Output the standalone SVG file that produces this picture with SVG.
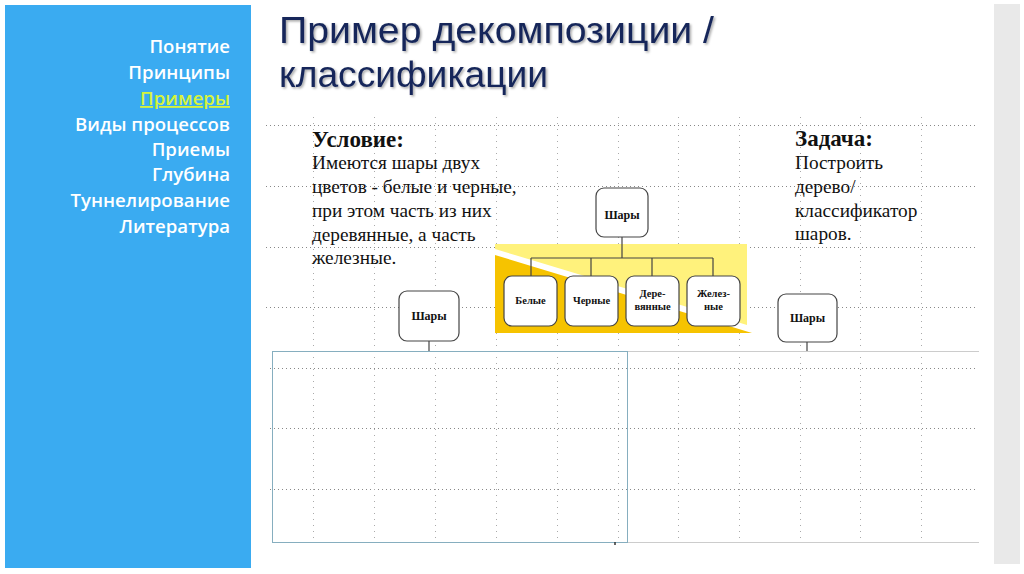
<svg xmlns="http://www.w3.org/2000/svg" width="1024" height="574" viewBox="0 0 1024 574">
<style>
.menu{font-family:"Open Sans","Noto Sans",sans-serif;font-weight:600;font-size:18.6px;fill:#ffffff;text-anchor:end}
.title{font-family:"Liberation Sans","Arial",sans-serif;font-size:37px;fill:#17285a}
.ser{font-family:"Liberation Serif","DejaVu Serif",serif;fill:#111}
.h{font-weight:bold;font-size:23px}
.b{font-size:19.3px}
.node rect{fill:#fff;stroke:#444;stroke-width:1.2}
.node text{font-family:"Liberation Serif","DejaVu Serif",serif;font-weight:bold;fill:#111;text-anchor:middle}
.gh{stroke:#888;stroke-width:1;stroke-dasharray:1 3}
.gv{stroke:#aaa;stroke-width:1;stroke-dasharray:1 5}
.conn{stroke:#444;stroke-width:1.2;fill:none}
</style>
<defs>
<filter id="sh" x="-5%" y="-20%" width="110%" height="140%">
<feDropShadow dx="1.5" dy="1.5" stdDeviation="1" flood-color="#000" flood-opacity="0.35"/>
</filter>
</defs>
<rect width="1024" height="574" fill="#ffffff"/>
<rect x="5" y="5" width="246" height="563" fill="#3aabf1"/>
<rect x="994" y="4" width="26" height="560" fill="#e9e9e9"/>
<g id="menu">
<text class="menu" x="230" y="53">Понятие</text>
<text class="menu" x="230" y="79">Принципы</text>
<text class="menu" x="230" y="105" style="fill:#d6f43a" text-decoration="underline">Примеры</text>
<text class="menu" x="230" y="131">Виды процессов</text>
<text class="menu" x="230" y="156">Приемы</text>
<text class="menu" x="230" y="181">Глубина</text>
<text class="menu" x="230" y="207">Туннелирование</text>
<text class="menu" x="230" y="233">Литература</text>
</g>
<g id="title" filter="url(#sh)">
<text class="title" x="279" y="43" textLength="435" lengthAdjust="spacingAndGlyphs">Пример декомпозиции /</text>
<text class="title" x="279" y="87" textLength="269" lengthAdjust="spacingAndGlyphs">классификации</text>
</g>
<g id="grid">
<line class="gh" x1="266" y1="125.5" x2="978" y2="125.5"/>
<line class="gh" x1="266" y1="186.5" x2="978" y2="186.5"/>
<line class="gh" x1="266" y1="247.5" x2="978" y2="247.5"/>
<line class="gh" x1="266" y1="307.5" x2="978" y2="307.5"/>
<line class="gh" x1="270" y1="368.5" x2="978" y2="368.5"/>
<line class="gh" x1="270" y1="428.5" x2="978" y2="428.5"/>
<line class="gh" x1="270" y1="489.5" x2="978" y2="489.5"/>
<line class="gv" x1="313.5" y1="117" x2="313.5" y2="541"/>
<line class="gv" x1="374.5" y1="117" x2="374.5" y2="541"/>
<line class="gv" x1="435.5" y1="117" x2="435.5" y2="541"/>
<line class="gv" x1="496.5" y1="117" x2="496.5" y2="541"/>
<line class="gv" x1="557.5" y1="117" x2="557.5" y2="541"/>
<line class="gv" x1="618.5" y1="117" x2="618.5" y2="541"/>
<line class="gv" x1="678.5" y1="117" x2="678.5" y2="541"/>
<line class="gv" x1="739.5" y1="117" x2="739.5" y2="541"/>
<line class="gv" x1="800.5" y1="117" x2="800.5" y2="541"/>
<line class="gv" x1="860.5" y1="117" x2="860.5" y2="541"/>
<line class="gv" x1="921.5" y1="117" x2="921.5" y2="541"/>
</g>
<g id="frame">
<line x1="628" y1="351.5" x2="979" y2="351.5" stroke="#cccccc" stroke-width="1"/>
<line x1="628" y1="542.5" x2="979" y2="542.5" stroke="#cccccc" stroke-width="1"/>
<rect x="272.5" y="351.5" width="355" height="191" fill="none" stroke="#86aebf" stroke-width="1"/>
<line x1="615" y1="542" x2="615" y2="545" stroke="#333" stroke-width="1.5"/>
</g>
<g id="condition">
<text class="ser h" x="312" y="147">Условие:</text>
<text class="ser b" x="312" y="169">Имеются шары двух</text>
<text class="ser b" x="312" y="193">цветов - белые и черные,</text>
<text class="ser b" x="312" y="217">при этом часть из них</text>
<text class="ser b" x="312" y="241">деревянные, а часть</text>
<text class="ser b" x="312" y="264">железные.</text>
</g>
<g id="task">
<text class="ser h" x="795" y="146">Задача:</text>
<text class="ser b" x="795" y="169">Построить</text>
<text class="ser b" x="795" y="193">дерево/</text>
<text class="ser b" x="795" y="217">классификатор</text>
<text class="ser b" x="795" y="240">шаров.</text>
</g>
<g id="highlight">
<rect x="495" y="244" width="252" height="86" fill="#fff27c"/>
<polygon points="495,249 747,325 752,333 495,333" fill="#ffffff"/>
<polygon points="495,255 495,333 752,333" fill="#f6c300"/>
</g>
<g id="connectors">
<path class="conn" d="M622,237 V258 M531,258 H713 M531,258 V276 M591,258 V276 M652,258 V276 M713,258 V276"/>
<path class="conn" d="M429,341 V351"/>
<path class="conn" d="M807,342 V351"/>
</g>
<g id="root" class="node">
<rect x="596" y="188" width="52" height="49" rx="8"/>
<text x="622" y="219" font-size="12">Шары</text>
</g>
<g id="white" class="node">
<rect x="504" y="276" width="53" height="50" rx="8"/>
<text x="530.5" y="304" font-size="10.5">Белые</text>
</g>
<g id="black" class="node">
<rect x="565" y="276" width="53" height="50" rx="8"/>
<text x="591.5" y="304" font-size="10.5">Черные</text>
</g>
<g id="wooden" class="node">
<rect x="626" y="276" width="53" height="50" rx="8"/>
<text x="652.5" y="297" font-size="10.5">Дере-</text>
<text x="652.5" y="310" font-size="10.5">вянные</text>
</g>
<g id="iron" class="node">
<rect x="687" y="276" width="53" height="50" rx="8"/>
<text x="713.5" y="297" font-size="10.5">Желез-</text>
<text x="713.5" y="310" font-size="10.5">ные</text>
</g>
<g id="left-root" class="node">
<rect x="399" y="291" width="60" height="50" rx="8"/>
<text x="429" y="320" font-size="12">Шары</text>
</g>
<g id="right-root" class="node">
<rect x="778" y="294" width="59" height="48" rx="8"/>
<text x="807.5" y="322" font-size="12">Шары</text>
</g>
</svg>
